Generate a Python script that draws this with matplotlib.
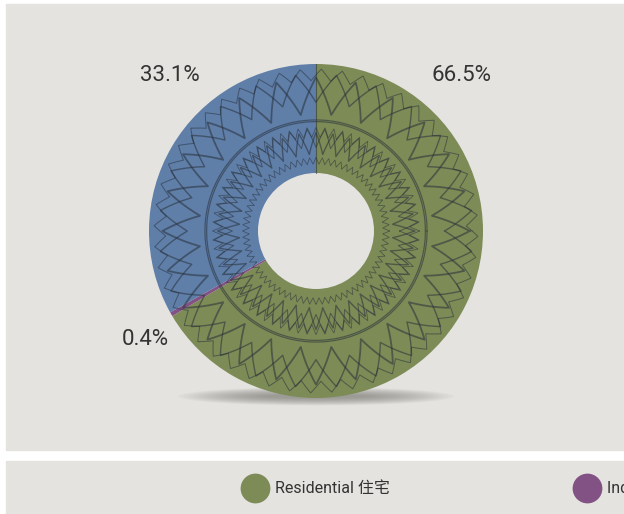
import numpy as np
import matplotlib
matplotlib.use("Agg")
import matplotlib.pyplot as plt
from matplotlib.patches import Rectangle, Ellipse

# Land use shares (clockwise from 12 o'clock)
categories = ["Residential 住宅", "Industrial 工業", "Commercial 商業"]
shares = [66.5, 0.4, 33.1]
labels = ["66.5%", "0.4%", "33.1%"]
colors = ["#7d8b56", "#835285", "#5f7ea8"]

plt.rcParams["font.family"] = ["Liberation Sans Narrow", "Roboto", "Noto Sans CJK TC", "DejaVu Sans"]

W, H = 624, 514
fig = plt.figure(figsize=(W / 100, H / 100), dpi=100, facecolor="white")

panel = "#e4e3df"
fig.patches.append(Rectangle((6 / W, (H - 450) / H), 1, 446 / H,
                             transform=fig.transFigure, color=panel, zorder=-5))
fig.patches.append(Rectangle((6 / W, 0), 1, 53 / H,
                             transform=fig.transFigure, color=panel, zorder=-5))

# donut axes: centre at (316, 231) px, outer radius 167 px
R = 167
cx, cy = 316, H - 231
span = 1.2
ax = fig.add_axes([(cx - span * R) / W, (cy - span * R) / H,
                   2 * span * R / W, 2 * span * R / H])

hole = 58 / R
wedges, _ = ax.pie(shares, colors=colors, startangle=90, counterclock=False,
                   radius=1, wedgeprops=dict(width=1 - hole, lw=0))
for w in wedges:
    w.set_zorder(2)

# pie() resets the limits, so fix them afterwards
ax.set_xlim(-span, span)
ax.set_ylim(-span, span)
ax.set_aspect("equal")
ax.axis("off")

# soft shadow under the ring
for k in range(18):
    ax.add_patch(Ellipse((0, -0.99), 1.65 - k * 0.06, 0.11 - k * 0.005,
                         color="#6d6b66", alpha=0.045, lw=0, zorder=0))

# decorative zigzag texture over the ring
t = np.linspace(0, 2 * np.pi, 5000)


def tri(n, phase=0.0):
    s = (t * n / (2 * np.pi) + phase) % 1.0
    return np.abs(2 * s - 1)


ink = dict(color="#27303a", alpha=0.55, zorder=3)
rings = [
    (0.70, 0.22, 24, 0.0, 1.3),
    (0.77, 0.17, 24, 0.5, 1.0),
    (0.90, 0.07, 48, 0.25, 0.7),
    (0.46, 0.13, 36, 0.0, 1.0),
    (0.50, 0.11, 36, 0.5, 0.7),
    (0.56, 0.06, 72, 0.0, 0.6),
    (0.40, 0.04, 72, 0.0, 0.6),
]
for r0, amp, n, ph, lw in rings:
    r = r0 + amp * tri(n, ph)
    ax.plot(r * np.cos(t), r * np.sin(t), lw=lw, **ink)
for rc in (0.655, 0.665):
    ax.plot(rc * np.cos(t), rc * np.sin(t), lw=0.9, **ink)

# slice boundary at 12 o'clock
ax.plot([0, 0], [hole, 1], lw=0.8, **ink)

label_pos = [(0.874, 0.934), (-1.024, -0.647), (-0.874, 0.934)]
for lab, (x, y) in zip(labels, label_pos):
    ax.text(x, y, lab, ha="center", va="center", fontsize=16, color="#333333")

# legend strip
lax = fig.add_axes([0, 0, 1, 53 / H])
lax.set_xlim(0, W)
lax.set_ylim(0, 53)
lax.axis("off")
for i, (name, c) in enumerate(zip(categories, colors)):
    x0 = 255 + i * 332
    lax.scatter([x0], [26], s=460, color=c, lw=0, clip_on=False)
    lax.text(x0 + 20, 25, name, ha="left", va="center", fontsize=11.5, color="#333333")

fig.savefig("out.png", dpi=100, facecolor="white")
